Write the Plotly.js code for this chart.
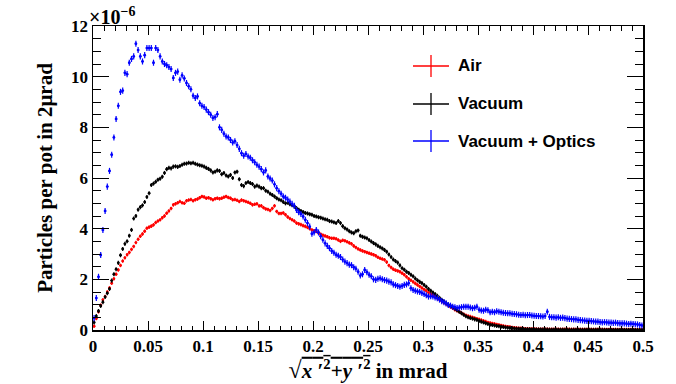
<!DOCTYPE html>
<html>
<head>
<meta charset="utf-8">
<script src="https://cdn.plot.ly/plotly-3.0.1.min.js"></script>
<style>
  html, body { margin: 0; padding: 0; background: #fff; }
  #chart { width: 676px; height: 384px; }
</style>
</head>
<body>
<div id="chart"></div>
<script>
// Histogram: 250 bins of 2 µrad from 0 to 0.5 mrad; values in units of 1e-6
var binWidth = 0.002;
var seriesNames = ["Air", "Vacuum", "Vacuum + Optics"];
var seriesColors = ["#ff0000", "#000000", "#0000ff"];

var air = [
  0.15,0.45,0.72,0.98,1.19,1.32,1.50,1.66,1.85,2.02,
  2.20,2.37,2.55,2.72,2.85,2.97,3.06,3.18,3.30,3.45,
  3.58,3.70,3.79,3.90,4.02,4.06,4.10,4.15,4.24,4.30,
  4.35,4.43,4.50,4.61,4.70,4.80,4.94,4.98,5.02,5.07,
  5.02,5.00,5.10,5.13,5.15,5.10,5.14,5.17,5.22,5.27,
  5.25,5.20,5.22,5.18,5.14,5.18,5.20,5.18,5.20,5.24,
  5.27,5.23,5.20,5.14,5.15,5.12,5.07,5.13,5.10,5.07,
  5.04,5.00,4.94,4.96,4.98,4.90,4.90,4.83,4.78,4.76,
  4.72,4.80,4.90,4.68,4.60,4.60,4.62,4.55,4.46,4.40,
  4.35,4.30,4.22,4.19,4.16,4.12,4.09,4.05,4.00,3.95,
  3.92,3.89,3.83,3.78,3.74,3.71,3.68,3.64,3.62,3.62,
  3.60,3.55,3.50,3.54,3.52,3.48,3.44,3.40,3.32,3.26,
  3.20,3.16,3.12,3.09,3.06,3.03,3.00,2.97,2.93,2.87,
  2.83,2.80,2.77,2.68,2.55,2.47,2.40,2.36,2.33,2.30,
  2.24,2.18,2.10,2.02,1.96,1.90,1.84,1.78,1.72,1.66,
  1.60,1.55,1.48,1.42,1.38,1.32,1.26,1.20,1.14,1.08,
  1.03,0.97,0.92,0.86,0.80,0.76,0.72,0.67,0.62,0.58,
  0.55,0.53,0.50,0.47,0.44,0.42,0.39,0.36,0.33,0.30,
  0.28,0.26,0.24,0.22,0.20,0.18,0.16,0.14,0.13,0.12,
  0.10,0.09,0.08,0.07,0.07,0.06,0.05,0.05,0.04,0.04,
  0.04,0.035,0.035,0.03,0.03,0.03,0.03,0.028,0.028,0.027,
  0.027,0.026,0.026,0.025,0.025,0.025,0.024,0.024,0.024,0.023,
  0.023,0.023,0.022,0.022,0.022,0.022,0.021,0.021,0.021,0.020,
  0.020,0.020,0.020,0.020,0.019,0.019,0.019,0.019,0.018,0.018,
  0.018,0.018,0.018,0.017,0.017,0.017,0.017,0.016,0.016,0.016
];

var vacuum = [
  0.30,0.55,0.75,0.95,1.10,1.30,1.45,1.62,1.95,2.20,
  2.40,2.65,2.95,3.20,3.40,3.50,3.72,3.95,4.40,4.50,
  4.75,4.85,4.92,5.05,5.25,5.40,5.72,5.78,5.85,5.93,
  5.97,6.05,6.20,6.35,6.40,6.38,6.45,6.46,6.44,6.47,
  6.52,6.56,6.57,6.60,6.58,6.60,6.56,6.53,6.50,6.48,
  6.45,6.40,6.36,6.30,6.22,6.25,6.30,6.28,6.15,6.20,
  6.10,6.06,6.12,6.00,6.22,6.25,5.95,5.72,5.68,5.80,
  5.84,5.80,5.76,5.66,5.70,5.66,5.60,5.60,5.50,5.46,
  5.38,5.33,5.27,5.20,5.15,5.12,5.05,5.00,5.02,4.96,
  4.93,4.88,4.81,4.75,4.70,4.66,4.62,4.60,4.57,4.55,
  4.50,4.48,4.45,4.43,4.40,4.37,4.35,4.30,4.28,4.25,
  4.22,4.30,4.22,4.10,4.02,3.97,3.90,3.85,3.82,3.90,
  3.93,3.72,3.68,3.65,3.62,3.55,3.49,3.43,3.38,3.32,
  3.27,3.22,3.16,3.09,2.98,2.88,2.78,2.72,2.66,2.55,
  2.44,2.38,2.30,2.25,2.18,2.12,2.03,1.96,1.90,1.85,
  1.78,1.71,1.62,1.55,1.48,1.42,1.35,1.27,1.19,1.12,
  1.06,1.00,0.95,0.90,0.84,0.78,0.72,0.66,0.60,0.54,
  0.50,0.47,0.45,0.42,0.40,0.36,0.33,0.30,0.27,0.24,
  0.21,0.20,0.18,0.16,0.15,0.13,0.12,0.10,0.09,0.08,
  0.07,0.06,0.05,0.05,0.04,0.04,0.03,0.03,0.03,0.02,
  0.02,0.02,0.02,0.02,0.015,0.015,0.015,0.012,0.012,0.010,
  0.010,0.010,0.009,0.009,0.008,0.008,0.008,0.007,0.007,0.006,
  0.006,0.006,0.006,0.005,0.005,0.005,0.005,0.004,0.004,0.004,
  0.004,0.004,0.003,0.003,0.003,0.003,0.003,0.003,0.002,0.002,
  0.002,0.002,0.002,0.002,0.002,0.002,0.001,0.001,0.001,0.001
];

var vacuumOptics = [
  0.47,1.26,2.10,2.96,3.95,4.70,5.66,6.28,6.92,7.60,
  8.33,8.85,9.40,9.45,10.15,10.10,10.55,10.70,10.80,11.30,
  11.05,10.80,10.60,10.85,11.13,11.13,11.13,10.55,11.13,11.05,
  10.80,10.60,10.50,10.45,10.38,10.30,9.95,10.15,10.20,9.88,
  10.05,9.93,9.75,9.62,9.50,9.25,9.16,9.22,8.95,8.85,
  8.80,8.70,8.60,8.50,8.37,8.40,8.52,8.00,7.90,7.75,
  7.64,7.60,7.50,7.40,7.45,7.30,7.15,6.98,6.88,6.95,
  6.85,6.80,6.70,6.62,6.52,6.45,6.35,6.22,6.30,6.06,
  5.98,5.90,5.75,5.60,5.48,5.38,5.27,5.22,5.15,5.07,
  4.98,4.90,4.74,4.65,4.58,4.48,4.35,4.22,4.08,3.80,
  3.85,3.95,3.85,3.70,3.56,3.42,3.32,3.23,3.12,3.05,
  2.97,2.93,2.88,2.78,2.70,2.64,2.58,2.56,2.48,2.42,
  2.30,2.15,2.20,2.37,2.28,2.18,2.12,2.00,1.98,2.02,
  2.04,2.00,1.97,1.95,1.91,1.88,1.80,1.77,1.74,1.71,
  1.74,1.78,1.80,1.85,1.65,1.58,1.55,1.52,1.50,1.46,
  1.42,1.37,1.32,1.33,1.32,1.28,1.25,1.20,1.14,1.10,
  1.05,0.99,0.96,0.92,0.90,0.87,0.88,0.90,0.92,0.92,
  0.92,0.89,0.86,0.88,0.92,0.80,0.77,0.76,0.80,0.78,
  0.70,0.72,0.70,0.74,0.72,0.70,0.68,0.67,0.66,0.66,
  0.64,0.63,0.62,0.60,0.59,0.60,0.58,0.59,0.59,0.57,
  0.56,0.55,0.55,0.54,0.53,0.55,0.72,0.52,0.50,0.50,
  0.49,0.50,0.48,0.49,0.47,0.45,0.44,0.43,0.42,0.42,
  0.40,0.39,0.38,0.37,0.36,0.36,0.35,0.34,0.33,0.33,
  0.31,0.30,0.31,0.30,0.29,0.29,0.28,0.29,0.27,0.26,
  0.26,0.26,0.25,0.24,0.25,0.24,0.23,0.22,0.20,0.18
];

var xTickVals = [0, 0.05, 0.1, 0.15, 0.2, 0.25, 0.3, 0.35, 0.4, 0.45, 0.5];
var xTickText = ["0", "0.05", "0.1", "0.15", "0.2", "0.25", "0.3", "0.35", "0.4", "0.45", "0.5"];
var yTickVals = [0, 2, 4, 6, 8, 10, 12];
var yTickText = ["0", "2", "4", "6", "8", "10", "12"];

function centers(n) {
  var c = [];
  for (var i = 0; i < n; i++) c.push((i + 0.5) * binWidth);
  return c;
}

var seriesData = [air, vacuum, vacuumOptics];
var errSizes = [0.07, 0.08, 0.12];

var traces = seriesData.map(function (vals, i) {
  return {
    type: "scatter",
    mode: "markers",
    x: centers(vals.length),
    y: vals,
    name: seriesNames[i],
    showlegend: false,
    marker: { color: seriesColors[i], size: 2.8, line: { width: 0 } },
    error_x: { type: "constant", value: binWidth / 2, width: 0, thickness: 1.2, color: seriesColors[i] },
    error_y: { type: "constant", value: errSizes[i], width: 0, thickness: 1.2, color: seriesColors[i] },
    hoverinfo: "x+y+name"
  };
});

var serif = "Liberation Serif, Times New Roman, serif";
var tickFont = { family: serif, size: 17, color: "#000", weight: "bold" };

// legend drawn in paper coords (plot area 93..643 x, 26..330 y)
var L = 93, R = 643, T = 26, B = 330;
function px(xp) { return (xp - L) / (R - L); }
function py(yp) { return (B - yp) / (B - T); }

var legendRows = [66, 104, 141];
var shapes = [];
var annotations = [];
legendRows.forEach(function (yy, i) {
  shapes.push({ type: "line", xref: "paper", yref: "paper", x0: px(413), x1: px(449), y0: py(yy), y1: py(yy),
    line: { color: seriesColors[i], width: 1.3 } });
  shapes.push({ type: "line", xref: "paper", yref: "paper", x0: px(431), x1: px(431), y0: py(yy - 11), y1: py(yy + 11),
    line: { color: seriesColors[i], width: 1.3 } });
  annotations.push({ xref: "paper", yref: "paper", x: px(456), y: py(yy), xanchor: "left", yanchor: "middle",
    text: "<b>" + seriesNames[i] + "</b>", showarrow: false,
    font: { family: "Liberation Sans, Arial, sans-serif", size: 17, color: "#000" } });
});

annotations.push({ xref: "paper", yref: "paper", x: 0, y: 1, xanchor: "left", yanchor: "bottom", yshift: -4, xshift: -6,
  text: "×10<sup>−6</sup>", showarrow: false,
  font: { family: serif, size: 20, color: "#000" } });

var layout = {
  width: 676, height: 384,
  margin: { l: 93, r: 33, t: 26, b: 54 },
  paper_bgcolor: "#fff", plot_bgcolor: "#fff",
  font: tickFont,
  xaxis: {
    range: [0, 0.5], tickvals: xTickVals, ticktext: xTickText,
    ticks: "inside", ticklen: 9, tickwidth: 1, tickcolor: "#000",
    minor: { dtick: 0.01, tick0: 0, ticks: "inside", ticklen: 4.5, tickwidth: 1, tickcolor: "#000", showgrid: false },
    showline: true, linecolor: "#000", linewidth: 1.5, mirror: "ticks",
    showgrid: false, zeroline: false,
    tickfont: tickFont,
    title: { text: "<b><span style='font-size:24px'>√</span><span style='text-decoration:overline'><i>x</i> ′<sup>2</sup>+<i>y</i> ′<sup>2</sup></span> in mrad</b>",
      font: { family: serif, size: 21, color: "#000" }, standoff: 6 },
    automargin: false
  },
  yaxis: {
    range: [0, 12], tickvals: yTickVals, ticktext: yTickText,
    ticks: "inside", ticklen: 16, tickwidth: 1, tickcolor: "#000",
    minor: { dtick: 0.5, tick0: 0, ticks: "inside", ticklen: 8, tickwidth: 1, tickcolor: "#000", showgrid: false },
    showline: true, linecolor: "#000", linewidth: 1.5, mirror: "ticks",
    showgrid: false, zeroline: false,
    tickfont: tickFont,
    title: { text: "<b>Particles per pot in 2μrad</b>",
      font: { family: serif, size: 21, color: "#000" }, standoff: 12 },
    automargin: false
  },
  shapes: shapes,
  annotations: annotations
};

Plotly.newPlot("chart", traces, layout, { displayModeBar: false, staticPlot: true });
</script>
</body>
</html>
